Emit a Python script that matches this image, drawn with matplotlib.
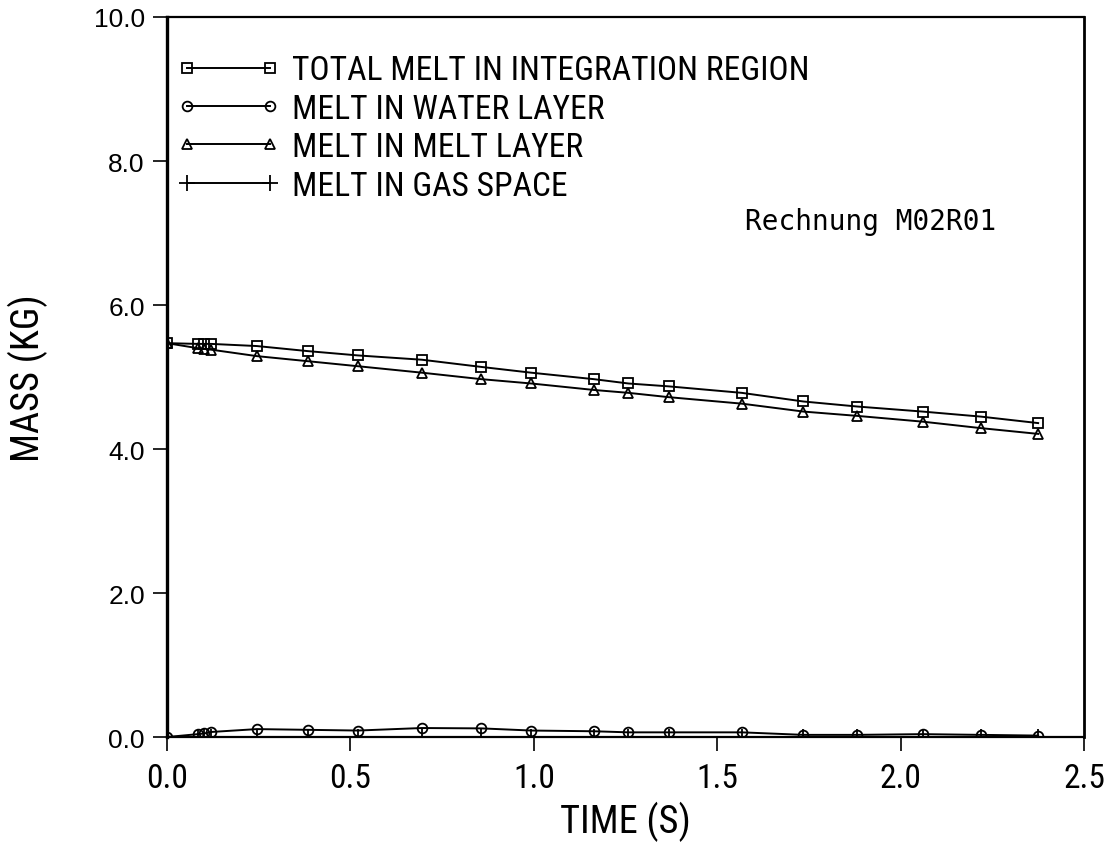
import matplotlib
matplotlib.use("Agg")
import matplotlib.pyplot as plt
from matplotlib import font_manager
from matplotlib.font_manager import FontProperties
from matplotlib.ticker import FormatStrFormatter

# time steps (s) shared by all four curves
time_s = [0.0, 0.084, 0.102, 0.12, 0.245, 0.383, 0.52, 0.695, 0.857, 0.993,
          1.164, 1.258, 1.368, 1.567, 1.735, 1.882, 2.06, 2.219, 2.375]

total_melt = [5.47, 5.46, 5.46, 5.46, 5.43, 5.36, 5.30, 5.24, 5.14, 5.06,
              4.97, 4.91, 4.87, 4.78, 4.66, 4.59, 4.52, 4.45, 4.36]
melt_water = [0.0, 0.04, 0.05, 0.07, 0.11, 0.10, 0.09, 0.125, 0.12, 0.09,
              0.08, 0.065, 0.065, 0.065, 0.03, 0.03, 0.04, 0.03, 0.02]
melt_layer = [5.47, 5.40, 5.39, 5.38, 5.29, 5.22, 5.15, 5.06, 4.97, 4.91,
              4.82, 4.78, 4.72, 4.63, 4.52, 4.46, 4.38, 4.29, 4.21]
melt_gas = [0.0] * len(time_s)

labels = ["TOTAL MELT IN INTEGRATION REGION", "MELT IN WATER LAYER",
          "MELT IN MELT LAYER", "MELT IN GAS SPACE"]


def fonte_estreita(size):
    """Prefer a narrow sans face for the plotter-style lettering."""
    entradas = font_manager.fontManager.ttflist
    nomes = {f.name for f in entradas}
    for nome in ["Roboto Condensed", "Liberation Sans Narrow", "Arial Narrow"]:
        if nome in nomes:
            return FontProperties(family=nome, size=size * 1.15)
    if any(f.name == "DejaVu Sans" and "ondensed" in f.fname for f in entradas):
        return FontProperties(family="DejaVu Sans", stretch="condensed", size=size)
    return FontProperties(family="Liberation Sans", size=size)


SANS = ["Liberation Sans", "DejaVu Sans"]

fig = plt.figure(figsize=(11.15, 8.45), dpi=100)
ax = fig.add_axes([0.1498, 0.1266, 0.8224, 0.8521])

estilo = dict(color="black", lw=1.4, mfc="none", mec="black", mew=1.3)
ax.plot(time_s, total_melt, marker="s", ms=7.5, label=labels[0], **estilo)
ax.plot(time_s, melt_water, marker="o", ms=7, label=labels[1], **estilo)
ax.plot(time_s, melt_layer, marker="^", ms=7.5, label=labels[2], **estilo)
ax.plot(time_s, melt_gas, marker="+", ms=12, label=labels[3], **estilo)

ax.set_xlim(0, 2.5)
ax.set_ylim(0, 10)
ax.set_xticks([0.0, 0.5, 1.0, 1.5, 2.0, 2.5])
ax.set_yticks([0, 2, 4, 6, 8, 10])
ax.xaxis.set_major_formatter(FormatStrFormatter("%.1f"))
ax.yaxis.set_major_formatter(FormatStrFormatter("%.1f"))
ax.tick_params(direction="out", length=10, width=1.2)
ax.tick_params(axis="x", pad=8)
ax.tick_params(axis="y", pad=6)

for lbl in ax.get_xticklabels():
    lbl.set_fontproperties(fonte_estreita(21))
for lbl in ax.get_yticklabels():
    lbl.set_fontfamily(SANS)
    lbl.set_fontsize(19)

for lado, lw in [("left", 2.4), ("bottom", 1.6), ("top", 1.6), ("right", 2.0)]:
    ax.spines[lado].set_linewidth(lw)

ax.set_xlabel("TIME (S)", fontproperties=fonte_estreita(24))
ax.set_ylabel("MASS (KG)", fontproperties=fonte_estreita(24))
ax.xaxis.set_label_coords(0.5, -0.088)
ax.yaxis.set_label_coords(-0.130, 0.5)

leg = ax.legend(loc="upper left", bbox_to_anchor=(0.011, 0.948),
                frameon=False, numpoints=2, handlelength=3.08,
                handletextpad=0.36, labelspacing=0.19, borderpad=0,
                borderaxespad=0, prop=fonte_estreita(21))

ax.text(0.630, 0.717, "Rechnung M02R01", transform=ax.transAxes,
        family="DejaVu Sans Mono", fontsize=20, va="center", ha="left")

fig.savefig("out.png", dpi=100)
